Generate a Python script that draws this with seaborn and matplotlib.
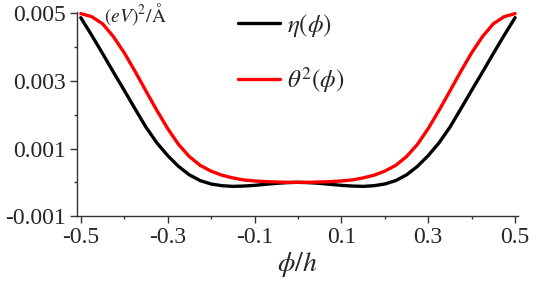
import numpy as np
import pandas as pd
import matplotlib
matplotlib.use("Agg")
import matplotlib.pyplot as plt
import seaborn as sns

# phi/h sample points (step 0.025)
phi = [-0.500, -0.475, -0.450, -0.425, -0.400, -0.375, -0.350, -0.325, -0.300, -0.275,
       -0.250, -0.225, -0.200, -0.175, -0.150, -0.125, -0.100, -0.075, -0.050, -0.025,
       0.000, 0.025, 0.050, 0.075, 0.100, 0.125, 0.150, 0.175, 0.200, 0.225,
       0.250, 0.275, 0.300, 0.325, 0.350, 0.375, 0.400, 0.425, 0.450, 0.475, 0.500]

# eta(phi)
eta = [0.00487, 0.00435, 0.00381, 0.00326, 0.00272, 0.00217, 0.00163, 0.00117, 0.00079, 0.00047,
       0.00022, 0.00005, -0.00005, -0.00010, -0.00012, -0.00011, -0.00009, -0.00006, -0.00003, -0.00001,
       0.00000, -0.00001, -0.00003, -0.00006, -0.00009, -0.00011, -0.00012, -0.00010, -0.00005, 0.00005,
       0.00022, 0.00047, 0.00079, 0.00117, 0.00163, 0.00217, 0.00272, 0.00326, 0.00381, 0.00435, 0.00487]

# theta^2(phi)
theta2 = [0.00499, 0.00490, 0.00469, 0.00431, 0.00383, 0.00328, 0.00270, 0.00213, 0.00159, 0.00112,
          0.00076, 0.00050, 0.00033, 0.00021, 0.00013, 0.00007, 0.00004, 0.00002, 0.00001, 0.00000,
          0.00000, 0.00000, 0.00001, 0.00002, 0.00004, 0.00007, 0.00013, 0.00021, 0.00033, 0.00050,
          0.00076, 0.00112, 0.00159, 0.00213, 0.00270, 0.00328, 0.00383, 0.00431, 0.00469, 0.00490, 0.00499]

series_names = [r"$\eta(\phi)$", r"$\theta^2(\phi)$"]
series_colors = ["black", "red"]

x_ticks = [-0.5, -0.3, -0.1, 0.1, 0.3, 0.5]
x_minor = [-0.4, -0.2, 0.0, 0.2, 0.4]
y_ticks = [-0.001, 0.001, 0.003, 0.005]
y_minor = [0.0, 0.002, 0.004]

df = pd.DataFrame({
    "phi": phi * 2,
    "value": eta + theta2,
    "series": [series_names[0]] * len(phi) + [series_names[1]] * len(phi),
})

sns.set_style("ticks")
plt.rcParams["font.family"] = ["Liberation Serif", "DejaVu Serif"]
plt.rcParams["mathtext.fontset"] = "stix"

fig = plt.figure(figsize=(5.38, 2.84), dpi=100)
ax = fig.add_axes([0.143, 0.239, 0.820, 0.719])

sns.lineplot(data=df, x="phi", y="value", hue="series",
             palette=dict(zip(series_names, series_colors)),
             linewidth=2.4, ax=ax, sort=False)

ax.set_xlim(-0.509, 0.507)
ax.set_ylim(-0.001, 0.00504)
ax.set_xticks(x_ticks)
ax.set_xticks(x_minor, minor=True)
ax.set_yticks(y_ticks)
ax.set_yticks(y_minor, minor=True)
ax.set_xticklabels(["-0.5", "-0.3", "-0.1", "0.1", "0.3", "0.5"])
ax.set_yticklabels(["-0.001", "0.001", "0.003", "0.005"])

ax.tick_params(which="major", length=5, width=1, labelsize=17, color="#333333", pad=3)
ax.tick_params(which="minor", length=2.5, width=1, color="#333333")
for s in ["left", "bottom"]:
    ax.spines[s].set_linewidth(1)
    ax.spines[s].set_color("#333333")
sns.despine(ax=ax)

ax.set_xlabel(r"$\phi/h$", fontsize=20, labelpad=1)
ax.set_ylabel("")
ax.text(0.062, 0.99, r"$(eV)^2/\mathrm{\AA}$", transform=ax.transAxes,
        fontsize=14, ha="left", va="center")

ax.legend(frameon=False, fontsize=18, loc="upper left",
          bbox_to_anchor=(0.314, 1.11), handlelength=1.7, labelspacing=1.05,
          handletextpad=0.25)

fig.savefig("out.png", dpi=100)
